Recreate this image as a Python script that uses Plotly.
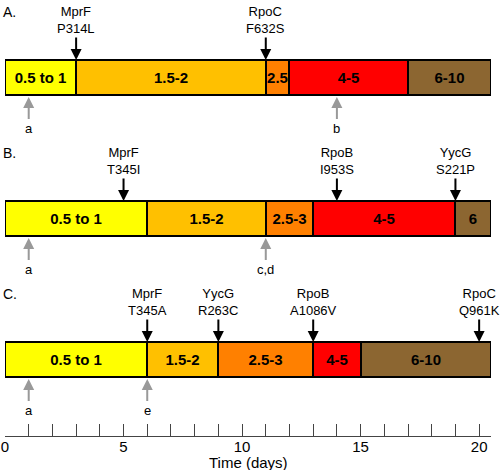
import plotly.graph_objects as go

# ---------------- data ----------------
row_names = ["A.", "B.", "C."]
# segments per row: (start day, end day, label)
seg_row = [0, 0, 0, 0, 0,
           1, 1, 1, 1, 1,
           2, 2, 2, 2, 2]
seg_start = [0, 3, 11, 12, 17,
             0, 6, 11, 13, 19,
             0, 6, 9, 13, 15]
seg_end = [3, 11, 12, 17, 20.5,
           6, 11, 13, 19, 20.5,
           6, 9, 13, 15, 20.5]
seg_label = ["0.5 to 1", "1.5-2", "2.5", "4-5", "6-10",
             "0.5 to 1", "1.5-2", "2.5-3", "4-5", "6",
             "0.5 to 1", "1.5-2", "2.5-3", "4-5", "6-10"]
seg_level = [0, 1, 2, 3, 4,
             0, 1, 2, 3, 4,
             0, 1, 2, 3, 4]
level_colors = ["#FFFF00", "#FFC000", "#FF8000", "#FF0000", "#8C6631"]

# mutations (black arrows)
mut_row = [0, 0, 1, 1, 1, 2, 2, 2, 2]
mut_day = [3, 11, 5, 14, 19, 6, 9, 13, 20]
mut_gene = ["MprF", "RpoC", "MprF", "RpoB", "YycG", "MprF", "YycG", "RpoB", "RpoC"]
mut_change = ["P314L", "F632S", "T345I", "I953S", "S221P", "T345A", "R263C", "A1086V", "Q961K"]

# samples (grey arrows)
samp_row = [0, 0, 1, 1, 2, 2]
samp_day = [1, 14, 1, 11, 1, 6]
samp_label = ["a", "b", "a", "c,d", "a", "e"]

x_ticks = list(range(0, 21))
x_tick_labels = [str(v) if v % 5 == 0 else "" for v in x_ticks]

# ---------------- layout constants (pixels) ----------------
W, H = 500, 470
ML, MR, MT, MB = 5, 9, 0, 34
PH = H - MT - MB
bar_top = [60, 201, 342]
bar_h = 35
FONT = "Liberation Sans, Arial, sans-serif"

fig = go.Figure()

fig.add_trace(go.Bar(
    orientation="h",
    y=[bar_top[r] + bar_h / 2 for r in seg_row],
    base=seg_start,
    x=[e - s for s, e in zip(seg_start, seg_end)],
    width=bar_h,
    marker=dict(color=[level_colors[l] for l in seg_level],
                line=dict(color="black", width=2)),
    text=seg_label,
    textposition="inside",
    insidetextanchor="middle",
    textangle=0,
    constraintext="none",
    textfont=dict(family=FONT, size=15, color="black", weight="bold"),
    hoverinfo="skip",
    showlegend=False,
))

ann = []
for i, name in enumerate(row_names):
    ann.append(dict(xref="paper", yref="y", x=(1 - ML) / (W - ML - MR), y=bar_top[i] - 48,
                    text=name, showarrow=False, xanchor="left", yanchor="middle",
                    font=dict(family=FONT, size=14, color="black")))

for r, d, g, c in zip(mut_row, mut_day, mut_gene, mut_change):
    ann.append(dict(x=d, y=bar_top[r], xref="x", yref="y",
                    text=g + "<br>" + c, showarrow=True,
                    ax=0, ay=-40, arrowhead=2, arrowsize=1.1, arrowwidth=2,
                    arrowcolor="black", standoff=0,
                    font=dict(family=FONT, size=13, color="black")))

for r, d, t in zip(samp_row, samp_day, samp_label):
    ann.append(dict(x=d, y=bar_top[r] + bar_h + 2, xref="x", yref="y",
                    text=t, showarrow=True,
                    ax=0, ay=31, arrowhead=2, arrowsize=1.1, arrowwidth=2,
                    arrowcolor="#999999", standoff=0,
                    font=dict(family=FONT, size=13, color="black")))

ann.append(dict(xref="paper", yref="paper", x=0.5, y=(PH - (462 - MT)) / PH,
                text="Time (days)", showarrow=False, xanchor="center", yanchor="middle",
                font=dict(family=FONT, size=15, color="black")))

fig.update_layout(
    width=W, height=H,
    margin=dict(l=ML, r=MR, t=MT, b=MB, pad=0),
    paper_bgcolor="white", plot_bgcolor="white",
    barmode="overlay",
    bargap=0,
    annotations=ann,
    xaxis=dict(range=[0, 20.5], tickvals=x_ticks, ticktext=x_tick_labels,
               ticks="inside", ticklen=12, tickwidth=1, tickcolor="#444444",
               showline=True, linecolor="#444444", linewidth=1,
               showgrid=False, zeroline=False, fixedrange=True, automargin=False,
               ticklabelstandoff=-3,
               tickfont=dict(family=FONT, size=15, color="black")),
    yaxis=dict(range=[PH, 0], visible=False, showgrid=False, zeroline=False,
               fixedrange=True, automargin=False),
)

fig.write_html("out.html", config={"displayModeBar": False},
               post_script="document.body.style.margin='0';document.body.style.padding='0';")
